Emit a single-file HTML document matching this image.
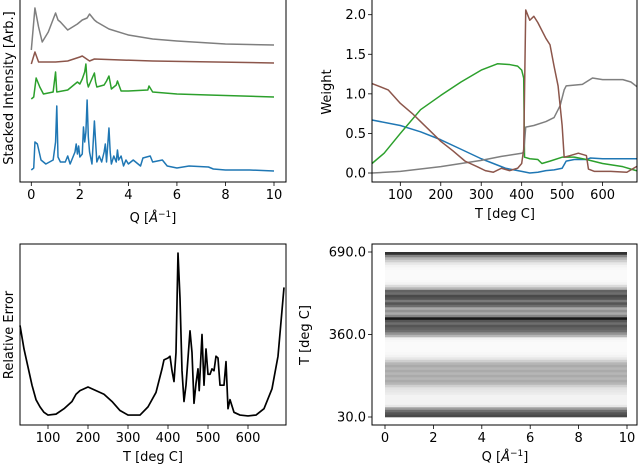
<!DOCTYPE html>
<html><head><meta charset="utf-8">
<style>
body{margin:0;background:#fff;}
svg{display:block;font-family:"DejaVu Sans","Liberation Sans",sans-serif;}
</style></head>
<body>
<svg id="fig" width="640" height="471" xmlns="http://www.w3.org/2000/svg"></svg>
<script>
// ---------- data ----------
const specQ_blue = [0,0.1,0.15,0.25,0.4,0.6,0.9,1.0,1.05,1.1,1.2,1.4,1.5,1.6,1.8,1.85,1.9,1.95,2.0,2.1,2.15,2.2,2.25,2.3,2.35,2.4,2.5,2.6,2.65,2.7,2.8,2.9,3.0,3.05,3.1,3.2,3.25,3.3,3.4,3.5,3.55,3.6,3.7,3.8,3.9,4.0,4.2,4.5,4.6,4.9,5.0,5.4,5.6,6,6.5,7.3,7.5,8,9,10];
const specV_blue = [12,14,40,38,22,18,22,40,76,25,20,20,26,18,30,38,28,36,25,28,55,40,50,82,45,30,18,61,40,20,26,20,30,38,20,54,30,18,26,20,32,22,26,16,22,18,22,16,24,26,20,22,16,14,16,15,13,12,12,11];
const specQ_green = [0,0.1,0.2,0.35,0.5,0.9,1.0,1.05,1.5,1.9,2.0,2.1,2.2,2.25,2.3,2.35,2.6,2.65,2.7,3.0,3.1,3.2,3.3,3.5,3.55,3.7,4,4.8,4.85,5,6,7.3,10];
const specV_green = [83,85,104,95,88,90,110,90,92,100,98,103,110,118,100,95,109,100,95,97,101,106,93,97,101,91,91,92,96,90,88,87,85];
const specQ_brown = [0,0.15,0.3,1,1.5,2.0,2.1,2.4,2.6,3.7,5,10];
const specV_brown = [118,130,120,120,121,125,126,121,123,122,121,119];
const specQ_gray = [0,0.15,0.3,0.45,0.7,1.0,1.1,1.2,1.5,1.9,2.1,2.3,2.4,2.6,2.7,3.2,4,5,6,8,10];
const specV_gray = [132,174,155,140,150,169,162,160,152,158,162,164,168,162,160,153,147,143,141,138,137];
const qTicks = [0,2,4,6,8,10];

const wT_blue = [30,100,150,200,250,300,330,360,400,420,440,460,480,500,510,530,560,570,600,690];
const wV_blue = [.67,.60,.52,.42,.30,.18,.12,.06,.02,0,.01,.03,.04,.06,.15,.17,.17,.19,.18,.18];
const wT_green = [30,60,100,150,200,250,300,340,370,390,400,405,407,420,440,450,470,500,530,560,600,650,690];
const wV_green = [.12,.25,.50,.80,.98,1.15,1.30,1.38,1.37,1.35,1.30,1.20,.20,.18,.17,.12,.15,.20,.20,.17,.12,.08,.02];
const wT_gray = [30,100,200,300,350,400,405,410,430,460,480,495,505,510,550,575,600,650,670,690];
const wV_gray = [0,.02,.08,.16,.21,.25,.26,.58,.60,.65,.70,.85,1.05,1.10,1.12,1.20,1.18,1.18,1.15,1.07];
const wT_brown = [30,70,100,130,150,170,200,230,260,290,310,330,350,370,390,400,405,410,420,430,440,460,470,480,490,500,505,520,540,560,565,580,620,660,690];
const wV_brown = [1.13,1.05,.88,.75,.65,.55,.40,.28,.15,.08,.03,.01,.06,.03,.06,.12,.30,2.06,1.93,1.98,1.90,1.70,1.62,1.35,1.10,.60,.20,.22,.25,.22,.05,.02,.02,.01,.10];
const tTicks = [100,200,300,400,500,600];
const wTicks = [0,0.5,1.0,1.5,2.0];

const errT = [30,40,50,60,70,80,90,100,120,140,160,170,180,200,220,240,260,280,300,330,350,370,385,390,400,405,410,415,420,425,430,435,440,445,455,460,465,470,475,478,485,490,495,500,505,510,515,520,525,530,540,545,550,555,565,580,600,620,640,660,675,690];
const errV = [.55,.42,.32,.22,.14,.10,.07,.055,.06,.09,.13,.17,.19,.21,.19,.17,.13,.08,.055,.055,.10,.18,.31,.36,.37,.38,.30,.24,.40,.95,.70,.30,.13,.22,.52,.40,.12,.23,.31,.19,.50,.22,.42,.28,.28,.31,.30,.38,.37,.22,.22,.35,.09,.14,.07,.055,.05,.055,.09,.20,.38,.76];

const hmT = [30,40,50,60,70,80,90,100,110,120,130,140,150,160,170,180,190,200,210,220,230,240,250,260,270,280,290,300,310,320,330,340,350,360,370,380,390,400,410,420,430,440,450,460,470,480,490,500,510,520,530,540,550,560,570,580,590,600,610,620,630,640,650,660,670,680];
const hmD = [.75,.7,.6,.4,.1,.05,.05,.05,.05,.08,.1,.12,.2,.3,.35,.3,.35,.3,.35,.3,.35,.3,.2,.1,.05,.03,.02,.02,.02,.02,.03,.05,.3,.45,.6,.65,.7,.6,.7,.95,.5,.35,.45,.35,.6,.7,.55,.7,.75,.6,.65,.3,.15,.05,.03,.02,.02,.02,.02,.03,.05,.1,.2,.3,.5,.85];
const hmTicks = [30,360,690];

// ---------- helpers ----------
const NS="http://www.w3.org/2000/svg";
const svg=document.getElementById('fig');
function mk(tag,attrs,parent){const e=document.createElementNS(NS,tag);for(const k in attrs)e.setAttribute(k,attrs[k]);(parent||svg).appendChild(e);return e;}
function lin(d0,d1,r0,r1){return v=>r0+(v-d0)/(d1-d0)*(r1-r0);}
function pathOf(xs,ys,fx,fy){return xs.map((x,i)=>(i?'L':'M')+fx(x).toFixed(2)+','+fy(ys[i]).toFixed(2)).join('');}
function frame(x0,y0,x1,y1,name){
  const r=mk('rect',{x:x0,y:y0,width:x1-x0,height:y1-y0,fill:'none',stroke:'#000','stroke-width':1});
  
  
}
function xTicks(ticks,fx,yb,fmt,name){
  const g=mk('g',{});
  
  
  ticks.forEach(t=>{
    const x=fx(t);
    mk('line',{x1:x,x2:x,y1:yb,y2:yb+4,stroke:'#000','stroke-width':0.8},g);
    const tx=mk('text',{x:x,y:yb+17,'font-size':13,'text-anchor':'middle',fill:'#000'},g);
    tx.textContent=fmt(t);
  });
}
function yTicks(ticks,fy,xl,fmt,name){
  const g=mk('g',{});
  
  
  ticks.forEach(t=>{
    const y=fy(t);
    mk('line',{x1:xl-4,x2:xl,y1:y,y2:y,stroke:'#000','stroke-width':0.8},g);
    const tx=mk('text',{x:xl-6,y:y+4.5,'font-size':13,'text-anchor':'end',fill:'#000'},g);
    tx.textContent=fmt(t);
  });
}
function label(txt,x,y,rot,name){
  const t=mk('text',{x:x,y:y,'font-size':13,'text-anchor':'middle',fill:'#000',transform:rot?`rotate(-90 ${x} ${y})`:''});
  t.innerHTML=txt;
  
  
}
function line(xs,ys,fx,fy,color,name,w){
  const p=mk('path',{d:pathOf(xs,ys,fx,fy),fill:'none',stroke:color,'stroke-width':w||1.5,'stroke-linejoin':'round'});
  
  
}
const qLabel='Q [<tspan font-style="italic">Å</tspan><tspan dy="-5" font-size="9">−1</tspan><tspan dy="5">]</tspan>';

// ---------- panel 1: spectra ----------
{
  const fx=lin(0,10,31.3,274), fy=lin(0,182,182,0);
  line(specQ_gray,specV_gray,fx,fy,'#7f7f7f','spectrum-gray');
  line(specQ_brown,specV_brown,fx,fy,'#8c564b','spectrum-brown');
  line(specQ_green,specV_green,fx,fy,'#2ca02c','spectrum-green');
  line(specQ_blue,specV_blue,fx,fy,'#1f77b4','spectrum-blue');
  frame(20,-1,286,182,'spectra-axes');
  xTicks(qTicks,fx,182,t=>String(t),'spectra-x-ticks');
  label(qLabel,153,222,false,'spectra-x-title');
  label('Stacked Intensity [Arb.]',13,88,true,'spectra-y-title');
}
// ---------- panel 2: weights ----------
{
  const fx=lin(30,690,372,639), fy=lin(0,2,173,14.7);
  line(wT_blue,wV_blue,fx,fy,'#1f77b4','weight-blue');
  line(wT_green,wV_green,fx,fy,'#2ca02c','weight-green');
  line(wT_gray,wV_gray,fx,fy,'#7f7f7f','weight-gray');
  line(wT_brown,wV_brown,fx,fy,'#8c564b','weight-brown');
  mk('rect',{x:637.5,y:0,width:3,height:183,fill:'#fff'});
  frame(372,-1,637,182,'weights-axes');
  xTicks(tTicks,fx,182,t=>String(t),'weights-x-ticks');
  yTicks(wTicks,fy,372,t=>t.toFixed(1),'weights-y-ticks');
  label('T [deg C]',505,218,false,'weights-x-title');
  label('Weight',331,92,true,'weights-y-title');
}
// ---------- panel 3: relative error ----------
{
  const fx=lin(30,695,20,286), fy=lin(0,1,425,244);
  line(errT,errV,fx,fy,'#000','relative-error-line',1.7);
  frame(20,244,286,425,'error-axes');
  xTicks(tTicks,fx,425,t=>String(t),'error-x-ticks');
  label('T [deg C]',153,461,false,'error-x-title');
  label('Relative Error',13,335,true,'error-y-title');
}
// ---------- panel 4: heatmap ----------
{
  const fx=lin(0,10,385,627), fy=lin(30,690,417,252);
  const g=mk('g',{});
  
  
  hmT.forEach((t,i)=>{
    const y1=fy(t), y0=fy(t+10);
    const c=Math.round(255*(1-hmD[i]*0.95));
    const r=mk('rect',{x:fx(0),y:y0,width:fx(10)-fx(0),height:y1-y0+0.3,fill:`rgb(${c},${c},${c})`},g);
    
    
  });
  frame(372,244,637,425,'heatmap-axes');
  xTicks(qTicks,fx,425,t=>String(t),'heatmap-x-ticks');
  yTicks(hmTicks,fy,372,t=>t.toFixed(1),'heatmap-y-ticks');
  label(qLabel,505,461,false,'heatmap-x-title');
  label('T [deg C]',309,335,true,'heatmap-y-title');
}
</script>
</body></html>
